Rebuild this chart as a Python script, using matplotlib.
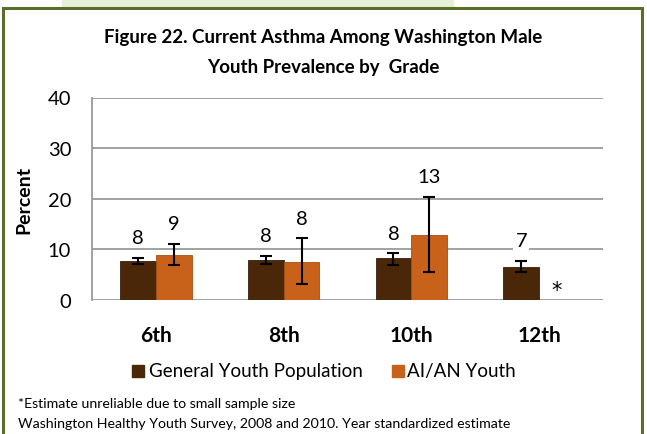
import numpy as np
import matplotlib.pyplot as plt
from matplotlib.patches import Rectangle

plt.rcParams['font.family'] = ['Lato', 'DejaVu Sans']

grades = ['6th', '8th', '10th', '12th']
general = [7.7, 7.95, 8.2, 6.6]
general_lo = [7.1, 7.2, 7.0, 5.5]
general_hi = [8.3, 8.7, 9.2, 7.7]
general_lbl = ['8', '8', '8', '7']

# 12th grade AI/AN estimate suppressed (small sample)
aian = [8.9, 7.55, 12.9, np.nan]
aian_lo = [6.9, 3.2, 5.5, np.nan]
aian_hi = [11.1, 12.2, 20.4, np.nan]
aian_lbl = ['9', '8', '13', '*']

c_gen = '#4a2708'
c_aian = '#c8621a'
grid_c = '#9a9a9a'

fig = plt.figure(figsize=(6.47, 4.35), dpi=100)
W, H = 647, 435

# outer frame and light green band on top
fig.patches.append(Rectangle((62 / W, 1 - 8 / H), (453 - 62) / W, 8 / H,
                             transform=fig.transFigure, color='#e8f0da', zorder=0))
fig.patches.append(Rectangle((3 / W, -0.02), 639 / W, 1.02 - 9 / H,
                             transform=fig.transFigure, fill=False,
                             edgecolor='#5b6d2a', lw=2.2, zorder=1))

ax = fig.add_axes([92 / W, 1 - 301 / H, 511 / W, 202.5 / H])

x = np.arange(len(grades))
w = 0.28
ax.bar(x - w / 2, general, w, color=c_gen, edgecolor='#3a1e05', lw=0.6, zorder=3)
ax.bar(x + w / 2, aian, w, color=c_aian, edgecolor='#a44e12', lw=0.6, zorder=3)

def errs(vals, lo, hi):
    v = np.array(vals)
    return np.array([v - np.array(lo), np.array(hi) - v])

ax.errorbar(x - w / 2, general, yerr=errs(general, general_lo, general_hi),
            fmt='none', ecolor='black', elinewidth=1.5, capsize=4.5, capthick=1.5, zorder=4)
ax.errorbar(x + w / 2, aian, yerr=errs(aian, aian_lo, aian_hi),
            fmt='none', ecolor='black', elinewidth=1.5, capsize=4.5, capthick=1.5, zorder=4)

for i in range(len(grades)):
    ax.annotate(general_lbl[i], (x[i] - w / 2, general_hi[i]), xytext=(0, 14.5),
                textcoords='offset points', ha='center', va='center', fontsize=14.5,
                bbox=dict(facecolor='white', edgecolor='none', pad=1.5), zorder=5)
    if np.isnan(aian[i]):
        ax.text(x[i] + w / 2, 2.0, aian_lbl[i], ha='center', va='center',
                fontsize=15, family='DejaVu Sans', zorder=5)
    else:
        ax.annotate(aian_lbl[i], (x[i] + w / 2, aian_hi[i]), xytext=(0, 14.5),
                    textcoords='offset points', ha='center', va='center', fontsize=14.5,
                    bbox=dict(facecolor='white', edgecolor='none', pad=1.5), zorder=5)

ax.set_xlim(-0.5, 3.5)
ax.set_ylim(0, 40)
ax.set_yticks([0, 10, 20, 30, 40])
ax.yaxis.grid(True, color=grid_c, lw=1.3, zorder=0)
ax.set_axisbelow(True)
for s in ['top', 'right', 'bottom']:
    ax.spines[s].set_visible(False)
ax.spines['left'].set_color(grid_c)
ax.spines['left'].set_linewidth(1.3)
ax.tick_params(axis='y', length=0, pad=15, labelsize=14.5)
ax.tick_params(axis='x', length=0, pad=18)
ax.set_xticks(x)
ax.set_xticklabels(grades, fontsize=15, fontweight='bold')
ax.set_ylabel('Percent', fontsize=14, fontweight='bold')
ax.yaxis.set_label_coords((32 - 92) / 511, 0.5)

fig.text(323 / W, 1 - 38 / H, 'Figure 22. Current Asthma Among Washington Male',
         ha='center', va='center', fontsize=13.5, fontweight='bold')
fig.text(323 / W, 1 - 67 / H, 'Youth Prevalence by  Grade',
         ha='center', va='center', fontsize=13.5, fontweight='bold')

# legend drawn by hand to get the tight Excel-like layout
fig.patches.append(Rectangle((132 / W, 1 - 378 / H), 12 / W, 12 / H,
                             transform=fig.transFigure, color=c_gen))
fig.text(149 / W, 1 - 372 / H, 'General Youth Population', ha='left', va='center', fontsize=13.5)
fig.patches.append(Rectangle((392 / W, 1 - 378 / H), 12 / W, 12 / H,
                             transform=fig.transFigure, color=c_aian))
fig.text(407 / W, 1 - 372 / H, 'AI/AN Youth', ha='left', va='center', fontsize=13.5)

fig.text(18 / W, 1 - 404 / H, '*Estimate unreliable due to small sample size',
         ha='left', va='center', fontsize=10.2)
fig.text(18 / W, 1 - 424 / H,
         'Washington Healthy Youth Survey, 2008 and 2010. Year standardized estimate',
         ha='left', va='center', fontsize=10.2)

fig.savefig('out.png', dpi=100)
